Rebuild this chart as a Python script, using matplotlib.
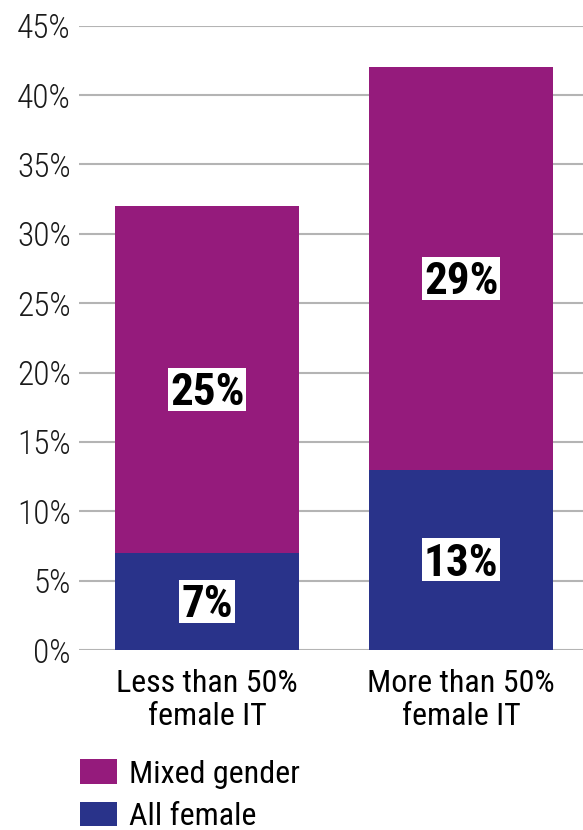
import matplotlib
matplotlib.use("Agg")
import matplotlib.pyplot as plt
from matplotlib.patches import Patch, Rectangle
from matplotlib.textpath import TextPath
from matplotlib.font_manager import FontProperties
from matplotlib.transforms import IdentityTransform

plt.rcParams['font.family'] = ['Roboto Condensed', 'DejaVu Sans']

categories = ["Less than 50%\nfemale IT", "More than 50%\nfemale IT"]
all_female = [7, 13]
mixed_gender = [25, 29]
yticks = [0, 5, 10, 15, 20, 25, 30, 35, 40, 45]

purple = "#951B7C"
blue = "#29338A"
DPI = 100

fig = plt.figure(figsize=(5.83, 8.30), dpi=DPI)
ax = fig.add_axes([79/583, 180/830, 504/583, (650-25.7)/830])

x = list(range(len(categories)))
width = 0.724
ax.bar(x, all_female, width=width, color=blue, zorder=2)
ax.bar(x, mixed_gender, width=width, bottom=all_female, color=purple, zorder=2)

ax.set_ylim(0, 45)
ax.set_xlim(-(207-79)/254, 1 + (583-461)/254)

# value labels: bold text on a white box sized to the glyph ink
label_size = 32.5
label_font = FontProperties(family="Roboto Condensed", weight="bold", size=label_size)


def value_label(xc, yc, s):
    ext = TextPath((0, 0), s, size=label_size, prop=label_font).get_extents()
    k = DPI / 72.0
    w, h = ext.width * k, ext.height * k
    px, py = ax.transData.transform((xc, yc))
    padx, pady = 4, 5
    ax.add_patch(Rectangle((px - w / 2 - padx, py - h / 2 - pady), w + 2 * padx,
                           h + 2 * pady, facecolor="white", edgecolor="none",
                           transform=IdentityTransform(), zorder=3))
    ax.text(px - w / 2 - ext.x0 * k, py - h / 2 - ext.y0 * k, s,
            fontproperties=label_font, color="black", ha="left", va="baseline",
            transform=IdentityTransform(), zorder=4)


for xi, a, m in zip(x, all_female, mixed_gender):
    value_label(xi, a / 2, f"{a}%")
    value_label(xi, a + m / 2 - 0.7, f"{m}%")

ax.set_yticks(yticks)
ax.set_yticklabels([f"{t}%" for t in yticks], fontsize=24, color="#1a1a1a",
                   fontweight="light")
ax.set_xticks(x)
ax.set_xticklabels(categories, fontsize=23, color="black", linespacing=1.15)
ax.tick_params(axis="both", length=0)
ax.tick_params(axis="y", pad=6)
ax.tick_params(axis="x", pad=14)
ax.grid(axis="y", color="#b4b4b4", linewidth=1.5, zorder=0)
for s in ax.spines.values():
    s.set_visible(False)

handles = [Patch(facecolor=purple, label="Mixed gender"),
           Patch(facecolor=blue, label="All female")]
fig.legend(handles=handles, loc="lower left", bbox_to_anchor=(79/583 - 0.021, -0.017),
           frameon=False, fontsize=23, handlelength=1.18, handleheight=0.8,
           handletextpad=0.38, labelspacing=0.42, borderaxespad=0)

fig.savefig("out.png", dpi=DPI)
